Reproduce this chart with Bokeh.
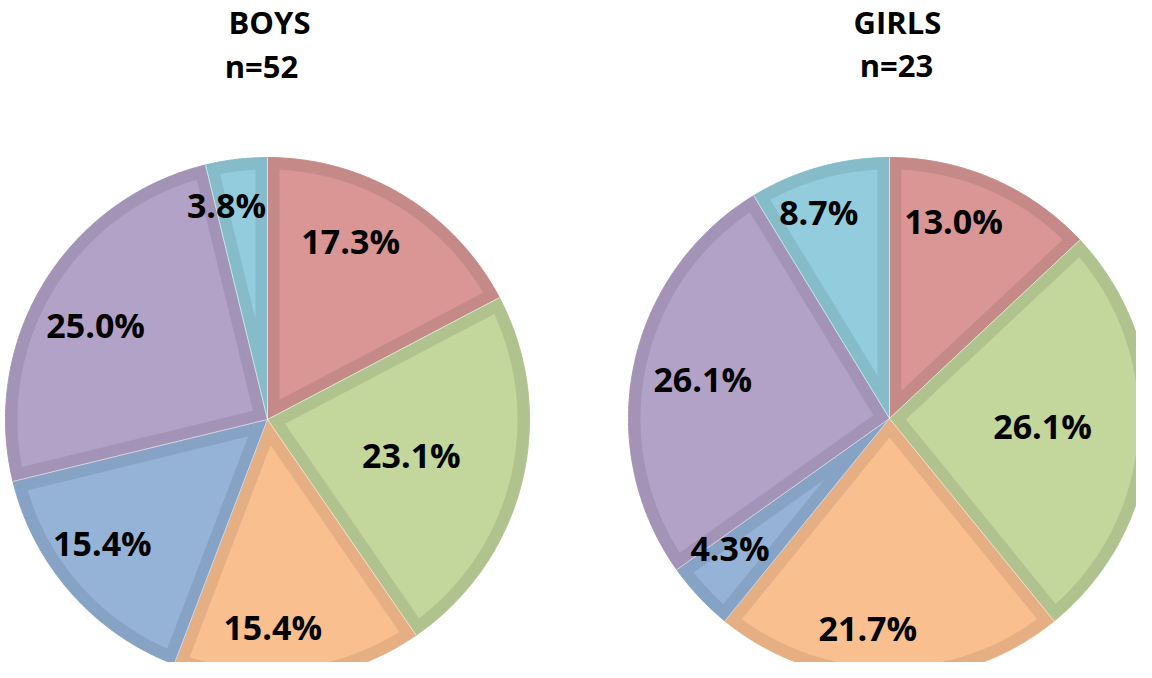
import numpy as np
from bokeh.plotting import figure
from bokeh.models import Range1d, ColumnDataSource
from bokeh.embed import file_html
from bokeh.resources import INLINE
from bokeh.core.properties import value

# ---- data ----
groups = ["BOYS", "GIRLS"]
group_n = [52, 23]
boys_pct = [17.3, 23.1, 15.4, 15.4, 25.0, 3.8]
girls_pct = [13.0, 26.1, 21.7, 4.3, 26.1, 8.7]

# ---- style / layout ----
fill_colors = ["#D99694", "#C3D69B", "#F9BF8F", "#95B3D7", "#B3A2C7", "#93CDDD"]
edge_colors = ["#C58A88", "#B0C28D", "#E5AF83", "#86A3C5", "#A393B6", "#86BBCA"]
# label placement: fraction of radius, and angular nudge (deg) from mid-angle
label_frac = [
    [0.753, 0.566, 0.794, 0.788, 0.748, 0.832],
    [0.797, 0.587, 0.808, 0.787, 0.731, 0.838],
]
label_nudge = [
    [-6.2, 0.1, 5.4, 4.5, -2.6, -4.0],
    [-5.5, -1.2, 5.9, 4.1, 0.2, -3.2],
]
centers = [(267, 419), (889, 418)]
radii = [262, 261]
title_x = [(269, 261), (897, 896)]
title_y = [(21, 65), (21, 64)]
border = 12
FONT = "Open Sans"

W, H = 1136, 662
p = figure(width=W, height=H, x_range=Range1d(0, W), y_range=Range1d(H, 0),
           output_backend="svg", toolbar_location=None, min_border=0,
           x_axis_location=None, y_axis_location=None)
p.grid.visible = False
p.outline_line_color = None
p.background_fill_color = "white"


def pt(cx, cy, r, a):
    return cx + r * np.sin(a), cy - r * np.cos(a)


for gi, pct in enumerate([boys_pct, girls_pct]):
    cx, cy = centers[gi]
    r = radii[gi]
    vals = np.array(pct, dtype=float)
    fr = vals / vals.sum()
    ends = np.cumsum(fr) * 2 * np.pi
    starts = np.concatenate([[0.0], ends[:-1]])

    oxs, oys, ixs, iys = [], [], [], []
    lx, ly, lt = [], [], []
    sx, sy = [], []
    for k in range(len(vals)):
        a0, a1 = starts[k], ends[k]
        n = max(8, int(200 * (a1 - a0)))
        aa = np.linspace(a0, a1, n)
        X, Y = pt(cx, cy, r, aa)
        oxs.append([cx] + list(X))
        oys.append([cy] + list(Y))
        # inset polygon (inner stroke look)
        half = (a1 - a0) / 2
        dv = border / np.sin(half)
        vx, vy = pt(cx, cy, dv, a0 + half)
        ri = r - border
        dl = np.arcsin(border / ri)
        ab = np.linspace(a0 + dl, a1 - dl, n)
        X2, Y2 = pt(cx, cy, ri, ab)
        ixs.append([vx] + list(X2))
        iys.append([vy] + list(Y2))
        # label
        la = a0 + half + np.deg2rad(label_nudge[gi][k])
        mx, my = pt(cx, cy, r * label_frac[gi][k], la)
        lx.append(mx)
        ly.append(my)
        lt.append(f"{vals[k]:.1f}%")
        ex, ey = pt(cx, cy, r, a0)
        sx.append([cx, ex])
        sy.append([cy, ey])

    p.patches(xs=oxs, ys=oys, fill_color=edge_colors, line_color=edge_colors, line_width=1)
    p.patches(xs=ixs, ys=iys, fill_color=fill_colors, line_color=None)
    p.multi_line(xs=sx, ys=sy, line_color="white", line_width=1, line_alpha=0.6)
    src = ColumnDataSource(dict(x=lx, y=ly, t=lt))
    p.text(x="x", y="y", text="t", source=src, text_font=value(FONT),
           text_font_style="bold", text_font_size="34px", text_align="center",
           text_baseline="middle", text_color="black")
    p.text(x=list(title_x[gi]), y=list(title_y[gi]),
           text=[groups[gi], f"n={group_n[gi]}"], text_font=value(FONT),
           text_font_style="bold", text_font_size="31px", text_align="center",
           text_baseline="middle", text_color="black")

open("out.html", "w").write(file_html(p, INLINE))
